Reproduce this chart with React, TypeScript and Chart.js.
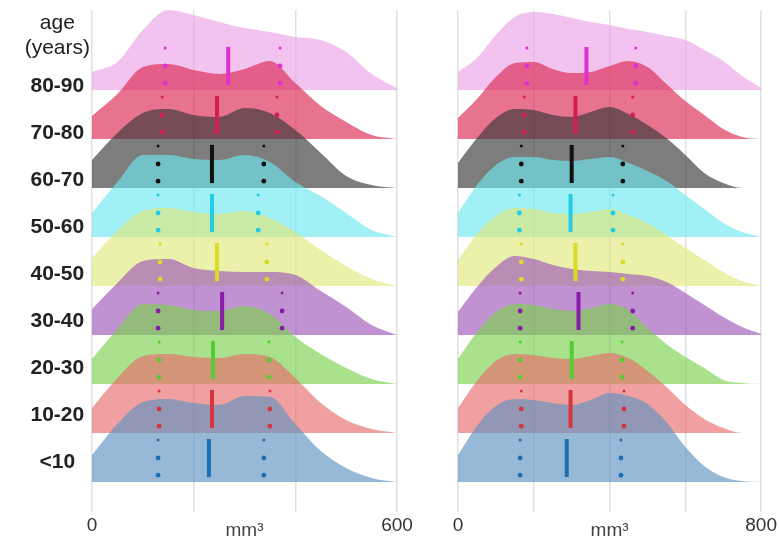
import React, { useEffect, useRef } from 'react';
import { Chart, registerables } from 'chart.js';

Chart.register(...registerables);

// Age groups, bottom row first
const AGE_GROUPS = ['<10', '10-20', '20-30', '30-40', '40-50', '50-60', '60-70', '70-80', '80-90'];
const HEADER_LABEL = ['age', '(years)'];

// Sample positions (mm³) of the density curves
const X_LEFT = [0, 50, 100, 150, 200, 250, 300, 350, 400, 450, 500, 550, 600];
const X_RIGHT = [0, 50, 100, 150, 200, 250, 300, 350, 400, 450, 500, 550, 600, 650, 700, 750, 800];

// Density estimates, left panel (one list per age group)
const DENS_LEFT_0 = [0.27, 0.58, 0.80, 0.83, 0.79, 0.77, 0.86, 0.85, 0.58, 0.31, 0.14, 0.04, 0.00];
const DENS_LEFT_1 = [0.25, 0.55, 0.77, 0.79, 0.76, 0.75, 0.79, 0.76, 0.55, 0.30, 0.13, 0.04, 0.00];
const DENS_LEFT_2 = [0.25, 0.55, 0.80, 0.79, 0.74, 0.73, 0.78, 0.70, 0.47, 0.30, 0.16, 0.05, 0.00];
const DENS_LEFT_3 = [0.26, 0.52, 0.74, 0.76, 0.67, 0.64, 0.63, 0.63, 0.60, 0.44, 0.28, 0.10, 0.00];
const DENS_LEFT_4 = [0.28, 0.55, 0.75, 0.78, 0.74, 0.72, 0.75, 0.68, 0.54, 0.36, 0.20, 0.07, 0.00];
const DENS_LEFT_5 = [0.24, 0.55, 0.82, 0.82, 0.78, 0.77, 0.82, 0.75, 0.55, 0.41, 0.24, 0.07, 0.00];
const DENS_LEFT_6 = [0.28, 0.55, 0.75, 0.79, 0.73, 0.71, 0.80, 0.75, 0.58, 0.35, 0.12, 0.03, 0.00];
const DENS_LEFT_7 = [0.23, 0.45, 0.72, 0.75, 0.69, 0.65, 0.70, 0.78, 0.56, 0.33, 0.17, 0.04, 0.00];
const DENS_LEFT_8 = [0.18, 0.28, 0.60, 0.80, 0.75, 0.68, 0.62, 0.58, 0.53, 0.50, 0.38, 0.16, 0.02];

// Density estimates, right panel
const DENS_RIGHT_0 = [0.27, 0.56, 0.76, 0.83, 0.82, 0.79, 0.77, 0.82, 0.89, 0.86, 0.78, 0.60, 0.35, 0.16, 0.05, 0.01, 0.00];
const DENS_RIGHT_1 = [0.25, 0.52, 0.72, 0.79, 0.78, 0.75, 0.74, 0.77, 0.80, 0.75, 0.62, 0.46, 0.28, 0.14, 0.05, 0.00, 0.00];
const DENS_RIGHT_2 = [0.25, 0.52, 0.72, 0.80, 0.79, 0.75, 0.73, 0.76, 0.80, 0.74, 0.56, 0.40, 0.27, 0.16, 0.04, 0.01, 0.00];
const DENS_RIGHT_3 = [0.23, 0.48, 0.68, 0.79, 0.76, 0.70, 0.66, 0.64, 0.63, 0.61, 0.59, 0.53, 0.42, 0.30, 0.18, 0.08, 0.01];
const DENS_RIGHT_4 = [0.26, 0.52, 0.70, 0.78, 0.77, 0.73, 0.72, 0.74, 0.77, 0.71, 0.63, 0.51, 0.38, 0.26, 0.14, 0.05, 0.00];
const DENS_RIGHT_5 = [0.24, 0.52, 0.72, 0.80, 0.80, 0.77, 0.76, 0.78, 0.80, 0.74, 0.66, 0.56, 0.42, 0.28, 0.14, 0.05, 0.00];
const DENS_RIGHT_6 = [0.25, 0.50, 0.70, 0.79, 0.78, 0.73, 0.71, 0.76, 0.81, 0.74, 0.63, 0.50, 0.33, 0.15, 0.05, 0.00, 0.00];
const DENS_RIGHT_7 = [0.21, 0.40, 0.62, 0.76, 0.77, 0.70, 0.66, 0.67, 0.73, 0.78, 0.72, 0.55, 0.38, 0.24, 0.10, 0.02, 0.00];
const DENS_RIGHT_8 = [0.18, 0.32, 0.55, 0.73, 0.78, 0.76, 0.72, 0.68, 0.65, 0.61, 0.58, 0.54, 0.50, 0.40, 0.29, 0.14, 0.02];

const DENS_LEFT = [DENS_LEFT_0, DENS_LEFT_1, DENS_LEFT_2, DENS_LEFT_3, DENS_LEFT_4, DENS_LEFT_5, DENS_LEFT_6, DENS_LEFT_7, DENS_LEFT_8];
const DENS_RIGHT = [DENS_RIGHT_0, DENS_RIGHT_1, DENS_RIGHT_2, DENS_RIGHT_3, DENS_RIGHT_4, DENS_RIGHT_5, DENS_RIGHT_6, DENS_RIGHT_7, DENS_RIGHT_8];

// Quartiles and medians (mm³), per age group
const Q1_LEFT = [130, 132, 132, 130, 134, 130, 130, 138, 144];
const MEDIAN_LEFT = [230, 236, 238, 256, 246, 236, 236, 246, 268];
const Q3_LEFT = [338, 350, 348, 374, 344, 327, 338, 364, 370];

const Q1_RIGHT = [164, 167, 164, 164, 167, 162, 167, 175, 182];
const MEDIAN_RIGHT = [287, 297, 300, 318, 310, 297, 300, 310, 339];
const Q3_RIGHT = [430, 438, 433, 461, 435, 409, 435, 461, 469];

const X_MAX_LEFT = 600;
const X_MAX_RIGHT = 800;
const X_STEP = 200;

// Translucent ridge fills and solid marker colours
const FILL_COLORS = [
  'rgba(94,148,194,0.65)',
  'rgba(232,109,109,0.65)',
  'rgba(125,209,78,0.65)',
  'rgba(158,87,186,0.65)',
  'rgba(225,232,125,0.65)',
  'rgba(109,232,240,0.65)',
  'rgba(55,55,55,0.65)',
  'rgba(220,40,82,0.65)',
  'rgba(235,163,229,0.65)',
];
const MARK_COLORS = [
  '#1f6fb0', '#d8343f', '#55cc33', '#8a1aa8', '#d8dc22',
  '#22cce6', '#111111', '#d21e50', '#e030d0',
];

const FONT_FAMILY = "'Liberation Sans', Arial, sans-serif";
const RIDGE_SCALE = 2.04; // rows per unit of density

function buildDatasets(xs: number[], dens: number[][], q1: number[], med: number[], q3: number[]) {
  const sets: any[] = [];
  AGE_GROUPS.forEach((_, r) => {
    sets.push({
      type: 'line',
      data: xs.map((x, i) => ({ x, y: r + dens[r][i] * RIDGE_SCALE })),
      fill: { value: r },
      backgroundColor: FILL_COLORS[r],
      borderColor: 'rgba(0,0,0,0)',
      borderWidth: 0,
      pointRadius: 0,
      tension: 0.4,
      cubicInterpolationMode: 'monotone',
      order: 100 + r,
    });
  });
  AGE_GROUPS.forEach((_, r) => {
    sets.push({
      type: 'line',
      data: [{ x: med[r], y: r + 0.1 }, { x: med[r], y: r + 0.88 }],
      borderColor: MARK_COLORS[r],
      borderWidth: 4,
      borderCapStyle: 'butt',
      pointRadius: 0,
      fill: false,
      order: 10,
    });
    const qs = [q1[r], q3[r]];
    const pts: { x: number; y: number }[] = [];
    qs.forEach((q) => {
      [0.14, 0.49, 0.86].forEach((dy) => pts.push({ x: q, y: r + dy }));
    });
    sets.push({
      type: 'line',
      data: pts,
      showLine: false,
      fill: false,
      pointRadius: (ctx: any) => (ctx.dataIndex % 3 === 2 ? 1.5 : 2.4),
      pointBackgroundColor: MARK_COLORS[r],
      pointBorderWidth: 0,
      order: 5,
    });
  });
  return sets;
}

function xScale(max: number) {
  return {
    type: 'linear',
    position: 'bottom',
    min: 0,
    max,
    ticks: {
      stepSize: X_STEP,
      autoSkip: false,
      maxRotation: 0,
      padding: 2,
      color: '#333',
      font: { family: FONT_FAMILY, size: 19 },
      callback: (v: number) => (v === 0 || v === max ? String(v) : ''),
    },
    grid: { color: '#e0e0e0', lineWidth: 1.5, tickLength: 12 },
    border: { display: false },
    title: {
      display: true,
      text: 'mm³',
      color: '#444',
      font: { family: FONT_FAMILY, size: 19 },
      padding: { top: 0, bottom: 0 },
    },
    afterFit: (s: any) => {
      s.height = 42;
    },
  };
}

const ROW_Y = { type: 'linear', display: false, min: -0.367, max: 9.633 };

function RidgePanel({ side }: { side: 'left' | 'right' }) {
  const ref = useRef<HTMLCanvasElement>(null);
  useEffect(() => {
    if (!ref.current) return;
    const isLeft = side === 'left';
    const scales: any = {
      x: xScale(isLeft ? X_MAX_LEFT : X_MAX_RIGHT),
      y: ROW_Y,
    };
    if (isLeft) {
      scales.yl = {
        type: 'linear',
        position: 'left',
        min: -0.81,
        max: 9.62,
        afterBuildTicks: (s: any) => {
          s.ticks = [...AGE_GROUPS.map((_, i) => ({ value: i })), { value: 9.08 }];
        },
        ticks: {
          autoSkip: false,
          crossAlign: 'center',
          padding: -6,
          color: '#222',
          font: (ctx: any) => ({
            family: FONT_FAMILY,
            size: 21,
            weight: ctx.index === AGE_GROUPS.length ? 'normal' : 'bold',
          }),
          callback: (_v: number, i: number) => (i < AGE_GROUPS.length ? AGE_GROUPS[i] : HEADER_LABEL),
        },
        grid: { display: false },
        border: { display: false },
        afterFit: (s: any) => {
          s.width = 92;
          s.paddingTop = 0;
          s.paddingBottom = 0;
        },
      };
    }
    const chart = new Chart(ref.current, {
      type: 'line',
      data: {
        datasets: isLeft
          ? buildDatasets(X_LEFT, DENS_LEFT, Q1_LEFT, MEDIAN_LEFT, Q3_LEFT)
          : buildDatasets(X_RIGHT, DENS_RIGHT, Q1_RIGHT, MEDIAN_RIGHT, Q3_RIGHT),
      },
      options: {
        responsive: false,
        animation: false,
        layout: { padding: isLeft ? { left: 0, right: 23, top: 10, bottom: 0 } : { left: 38, right: 14, top: 10, bottom: 0 } },
        plugins: {
          legend: { display: false },
          tooltip: { enabled: false },
        },
        scales,
      } as any,
    });
    return () => chart.destroy();
  }, [side]);
  const style: React.CSSProperties = {
    position: 'absolute',
    top: 0,
    left: side === 'left' ? 0 : 420,
    display: 'block',
  };
  return <canvas ref={ref} width={side === 'left' ? 420 : 359} height={542} style={style} />;
}

export default function App() {
  return (
    <div style={{ position: 'absolute', left: 0, top: 0, width: 779, height: 542, background: '#fff', overflow: 'hidden' }}>
      <RidgePanel side="left" />
      <RidgePanel side="right" />
    </div>
  );
}
